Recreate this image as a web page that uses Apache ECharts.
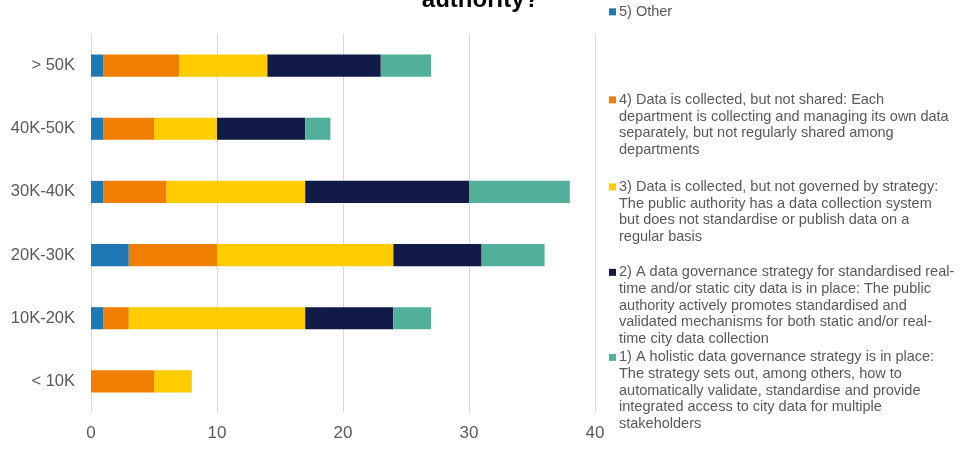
<!DOCTYPE html>
<html><head><meta charset="utf-8">
<script src="https://cdn.jsdelivr.net/npm/echarts@6/dist/echarts.min.js"></script>
<style>html,body{margin:0;padding:0;background:#fff}#c{width:961px;height:450px}</style>
</head><body><div id="c"></div>
<script>
const categories = ['< 10K', '10K-20K', '20K-30K', '30K-40K', '40K-50K', '> 50K'];
const other = [0, 1, 3, 1, 1, 1];
const notShared = [5, 2, 7, 5, 4, 6];
const notGoverned = [3, 14, 14, 11, 5, 7];
const strategy = [0, 7, 7, 13, 7, 9];
const holistic = [0, 3, 5, 8, 2, 4];
const xTicks = [0, 10, 20, 30, 40];
const seriesNames = [
  '5) Other',
  '4) Data is collected, but not shared: Each department is collecting and managing its own data separately, but not regularly shared among departments',
  '3) Data is collected, but not governed by strategy: The public authority has a data collection system but does not standardise or publish data on a regular basis',
  '2) A data governance strategy for standardised real-time and/or static city data is in place: The public authority actively promotes standardised and validated mechanisms for both static and/or real-time city data collection',
  '1) A holistic data governance strategy is in place: The strategy sets out, among others, how to automatically validate, standardise and provide integrated access to city data for multiple stakeholders'
];
const legendLines = [
  ['5) Other'],
  ['4) Data is collected, but not shared: Each', 'department is collecting and managing its own data', 'separately, but not regularly shared among', 'departments'],
  ['3) Data is collected, but not governed by strategy:', 'The public authority has a data collection system', 'but does not standardise or publish data on a', 'regular basis'],
  ['2) A data governance strategy for standardised real-', 'time and/or static city data is in place: The public', 'authority actively promotes standardised and', 'validated mechanisms for both static and/or real-', 'time city data collection'],
  ['1) A holistic data governance strategy is in place:', 'The strategy sets out, among others, how to', 'automatically validate, standardise and provide', 'integrated access to city data for multiple', 'stakeholders']
];
const values = [other, notShared, notGoverned, strategy, holistic];
const colors = ['#1f77b4', '#f07f00', '#ffcc00', '#121a47', '#52b09a'];
const legendTops = [3.5, 91.5, 178.5, 264, 349];

const FONT = 'Liberation Sans, Arial, sans-serif';
const LH = 16.7;

const legends = seriesNames.map((name, i) => ({
  data: [{ name: name, icon: 'none' }],
  left: 609,
  top: legendTops[i],
  padding: 0,
  itemWidth: 0,
  itemHeight: 7,
  itemGap: 0,
  selectedMode: false,
  formatter: () => legendLines[i].map((l, k) => (k === 0 ? '{b| }{g| }' : '{s| }') + '{t|' + l + '}').join('\n'),
  textStyle: {
    fontFamily: FONT, fontSize: 14.5, color: '#595959', lineHeight: LH, padding: [0,0,0,-5],
    rich: {
      b: { width: 7, height: 7, backgroundColor: colors[i], lineHeight: LH },
      g: { width: 3, lineHeight: LH },
      s: { width: 10, lineHeight: LH },
      t: { fontFamily: FONT, fontSize: 14.5, color: '#595959', lineHeight: LH }
    }
  }
}));

const chart = echarts.init(document.getElementById('c'), null, { renderer: 'canvas' });
chart.setOption({
  animation: false,
  backgroundColor: '#ffffff',
  title: {
    text: 'authority?',
    left: 'center',
    top: -12,
    padding: 0,
    textStyle: { fontFamily: FONT, fontSize: 24, fontWeight: 'bold', color: '#000000' }
  },
  legend: legends,
  grid: { left: 91, right: 366, top: 34, bottom: 37, containLabel: false },
  xAxis: {
    type: 'value', min: xTicks[0], max: xTicks[xTicks.length - 1], interval: 10,
    axisLine: { show: false }, axisTick: { show: false },
    splitLine: { show: true, lineStyle: { color: '#d9d9d9', width: 1 } },
    axisLabel: { fontFamily: FONT, fontSize: 17, color: '#595959', margin: 12 }
  },
  yAxis: {
    type: 'category', data: categories,
    axisLine: { show: false }, axisTick: { show: false },
    axisLabel: { fontFamily: FONT, fontSize: 16.5, color: '#595959', margin: 16 }
  },
  series: seriesNames.map((name, i) => ({
    name: name, type: 'bar', stack: 'total', data: values[i],
    barCategoryGap: '65%',
    itemStyle: { color: colors[i] }
  }))
});
</script></body></html>
